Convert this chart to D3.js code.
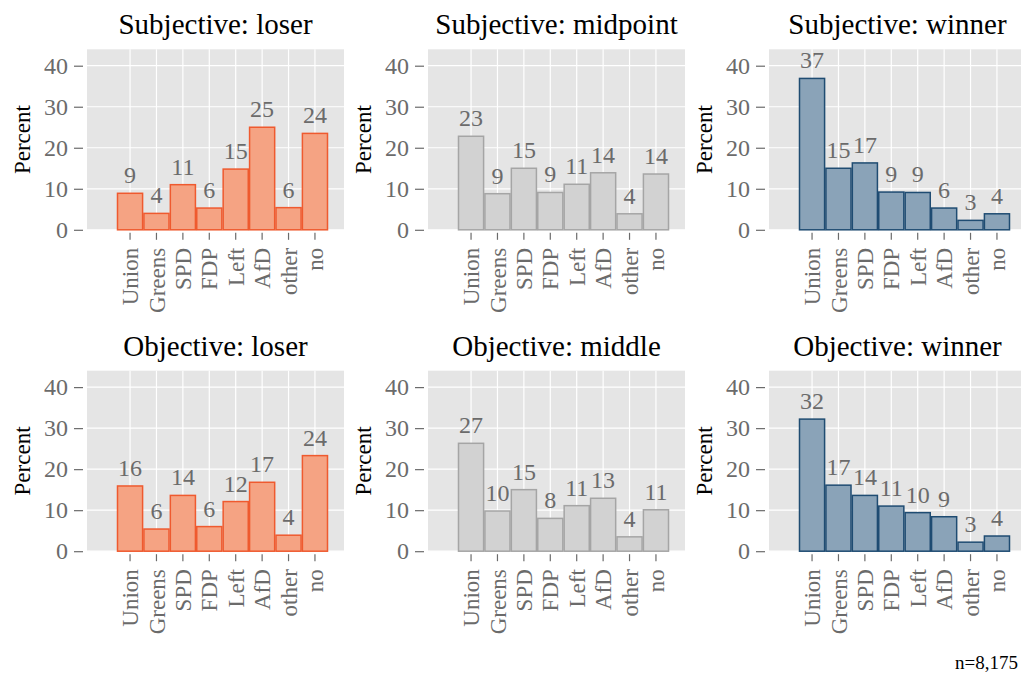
<!doctype html>
<html>
<head>
<meta charset="UTF-8">
<title>Party vote by subjective / objective status</title>
<style>
  body { margin: 0; background: #fff; }
  svg text { font-family: "Liberation Serif", "Times New Roman", serif; }
</style>
</head>
<body>
<div id="chart"></div>
<script src="https://d3js.org/d3.v7.min.js"></script>
<script>
// categories on the x axis
var parties = ["Union", "Greens", "SPD", "FDP", "Left", "AfD", "other", "no"];
var yTicks = [0, 10, 20, 30, 40];

// panel titles, row by row
var titles = ["Subjective: loser", "Subjective: midpoint", "Subjective: winner",
              "Objective: loser", "Objective: middle", "Objective: winner"];

// bar heights (percent)
var subjLoser    = [8.9, 4.0, 11.0, 5.3, 14.8, 25.0, 5.4, 23.5];
var subjMidpoint = [22.8, 8.8, 15.0, 9.1, 11.1, 13.9, 3.9, 13.6];
var subjWinner   = [36.9, 15.0, 16.3, 9.2, 9.1, 5.3, 2.3, 3.9];
var objLoser     = [15.9, 5.4, 13.6, 6.0, 12.1, 16.8, 3.9, 23.3];
var objMiddle    = [26.3, 9.8, 15.0, 8.0, 11.1, 12.9, 3.5, 10.1];
var objWinner    = [32.2, 16.1, 13.6, 11.0, 9.4, 8.4, 2.2, 3.7];

// the printed labels above the bars
var subjLoserLab    = ["9", "4", "11", "6", "15", "25", "6", "24"];
var subjMidpointLab = ["23", "9", "15", "9", "11", "14", "4", "14"];
var subjWinnerLab   = ["37", "15", "17", "9", "9", "6", "3", "4"];
var objLoserLab     = ["16", "6", "14", "6", "12", "17", "4", "24"];
var objMiddleLab    = ["27", "10", "15", "8", "11", "13", "4", "11"];
var objWinnerLab    = ["32", "17", "14", "11", "10", "9", "3", "4"];

var caption = "n=8,175";

var W = 1021, H = 673;
var colors = {
  loser:  {fill: "#f5a383", stroke: "#ef5a2f"},
  middle: {fill: "#d2d2d2", stroke: "#a5a5a5"},
  winner: {fill: "#8aa3b8", stroke: "#1f4c72"}
};

var panels = [
  {title: titles[0], values: subjLoser,    labels: subjLoserLab,    col: colors.loser},
  {title: titles[1], values: subjMidpoint, labels: subjMidpointLab, col: colors.middle},
  {title: titles[2], values: subjWinner,   labels: subjWinnerLab,   col: colors.winner},
  {title: titles[3], values: objLoser,     labels: objLoserLab,     col: colors.loser},
  {title: titles[4], values: objMiddle,    labels: objMiddleLab,    col: colors.middle},
  {title: titles[5], values: objWinner,    labels: objWinnerLab,    col: colors.winner}
];

var colLeft = [87, 428, 769];
var rowTop = [49.3, 370.7];
var pw = 257, ph = 180.5;
var grey = "#6b6b6b";

var svg = d3.select("#chart")
  .append("svg")
    .attr("width", W)
    .attr("height", H);

panels.forEach(function(p, i) {
  var px = colLeft[i % 3], py = rowTop[Math.floor(i / 3)];
  var g = svg.append("g").attr("transform", "translate(" + px + "," + py + ")");

  var x = d3.scaleBand()
    .domain(parties)
    .range([30.5, 240.5])
    .paddingInner(0.05);
  var y = d3.scaleLinear()
    .domain([0, 44])
    .range([ph, 0]);

  // panel background + grid
  g.append("rect")
    .attr("width", pw).attr("height", ph)
    .attr("fill", "#e5e5e5");
  g.selectAll(".hgrid")
    .data(yTicks)
    .join("line")
      .attr("x1", 0).attr("x2", pw)
      .attr("y1", function(d) { return y(d); })
      .attr("y2", function(d) { return y(d); })
      .attr("stroke", "#fff").attr("stroke-width", 1.2);
  g.selectAll(".vgrid")
    .data(parties)
    .join("line")
      .attr("x1", function(d) { return x(d) + x.bandwidth() / 2; })
      .attr("x2", function(d) { return x(d) + x.bandwidth() / 2; })
      .attr("y1", 0).attr("y2", ph)
      .attr("stroke", "#fff").attr("stroke-width", 1.2);

  // bars
  g.selectAll(".bar")
    .data(p.values)
    .join("rect")
      .attr("x", function(d, j) { return x(parties[j]); })
      .attr("y", function(d) { return y(d); })
      .attr("width", x.bandwidth())
      .attr("height", function(d) { return y(0) - y(d); })
      .attr("fill", p.col.fill)
      .attr("stroke", p.col.stroke)
      .attr("stroke-width", 1.5);

  // value labels
  g.selectAll(".lab")
    .data(p.values)
    .join("text")
      .attr("x", function(d, j) { return x(parties[j]) + x.bandwidth() / 2; })
      .attr("y", function(d) { return y(d) - 10; })
      .attr("text-anchor", "middle")
      .attr("font-size", 24)
      .attr("fill", grey)
      .text(function(d, j) { return p.labels[j]; });

  // y axis (offset from the panel)
  var ya = g.append("g").attr("transform", "translate(-4,0)")
    .call(d3.axisLeft(y).tickValues(yTicks).tickSize(9).tickPadding(6));
  ya.select(".domain").remove();
  ya.selectAll("line").attr("stroke", grey).attr("stroke-width", 1.2);
  ya.selectAll("text").attr("font-size", 24).attr("fill", grey);

  // x axis
  var xa = g.append("g").attr("transform", "translate(0," + (ph + 3) + ")")
    .call(d3.axisBottom(x).tickSize(7).tickPadding(8));
  xa.select(".domain").remove();
  xa.selectAll("line").attr("stroke", grey).attr("stroke-width", 1.2);
  xa.selectAll("text")
    .attr("font-size", 23).attr("fill", grey)
    .attr("transform", "rotate(-90)")
    .attr("text-anchor", "end")
    .attr("x", -15).attr("y", 0).attr("dy", "0.35em");

  // titles
  g.append("text")
    .attr("x", pw / 2).attr("y", -15)
    .attr("text-anchor", "middle")
    .attr("font-size", 29)
    .attr("fill", "#000")
    .text(p.title);
  g.append("text")
    .attr("transform", "translate(-57," + (ph / 2) + ") rotate(-90)")
    .attr("text-anchor", "middle")
    .attr("font-size", 23)
    .attr("fill", "#000")
    .text("Percent");
});

// caption, kept just inside the right edge
svg.append("text")
  .attr("x", W - 3).attr("y", 669)
  .attr("text-anchor", "end")
  .attr("font-size", 19)
  .attr("fill", "#000")
  .text(caption);
</script>
</body>
</html>
